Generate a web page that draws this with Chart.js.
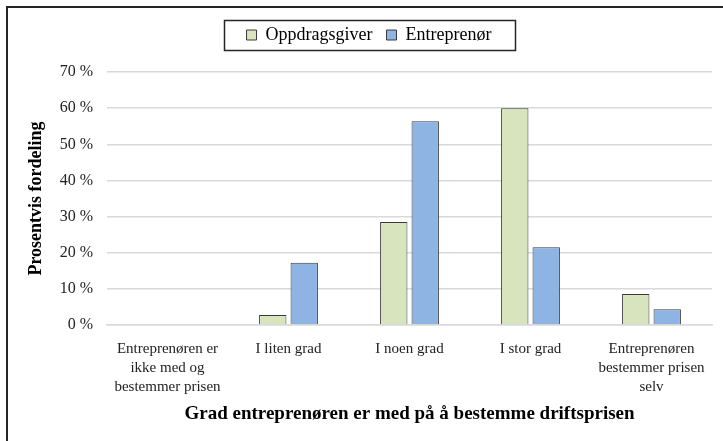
<!DOCTYPE html>
<html>
<head>
<meta charset="utf-8">
<script src="https://cdn.jsdelivr.net/npm/chart.js@4"></script>
<style>
  html, body { margin: 0; padding: 0; background: #fff; overflow: hidden; }
  #wrap { position: relative; width: 723px; height: 441px; }
  #frame { position: absolute; left: 6px; top: 6px; width: 900px; height: 900px;
           border-top: 2px solid #262626; border-left: 2px solid #262626; pointer-events: none; }
</style>
</head>
<body>
<div id="wrap">
  <canvas id="c" width="723" height="441"></canvas>
  <div id="frame"></div>
</div>
<script>
const categories = [
  ['Entreprenøren er', 'ikke med og', 'bestemmer prisen'],
  'I liten grad',
  'I noen grad',
  'I stor grad',
  ['Entreprenøren', 'bestemmer prisen', 'selv']
];
const seriesNames = ['Oppdragsgiver', 'Entreprenør'];
const oppdragsgiver = [0, 2.8, 28.5, 60.0, 8.6];
const entreprenor = [0, 17.2, 56.4, 21.5, 4.4];
const yTicks = [0, 10, 20, 30, 40, 50, 60, 70];

const FONT = "'Liberation Serif', 'Times New Roman', serif";

const legendBorder = {
  id: 'legendBorder',
  afterInit(chart) {
    const lg = chart.legend;
    if (lg && !lg._patched) {
      const orig = lg.fit.bind(lg);
      lg.fit = function () { orig(); this.height += 18; };
      lg._patched = true;
    }
  },
  afterDraw(chart) {
    const lg = chart.legend;
    if (!lg || !lg.legendHitBoxes || !lg.legendHitBoxes.length) return;
    const boxes = lg.legendHitBoxes;
    let l = Infinity, r = -Infinity, t = Infinity, b = -Infinity;
    boxes.forEach(h => { l = Math.min(l, h.left); r = Math.max(r, h.left + h.width);
                         t = Math.min(t, h.top); b = Math.max(b, h.top + h.height); });
    const ctx = chart.ctx;
    ctx.save();
    ctx.strokeStyle = '#262626';
    ctx.lineWidth = 1.5;
    const cy = (t + b) / 2;
    ctx.strokeRect(Math.round(l - 23) + 0.5, Math.round(cy - 15) + 0.5, Math.round(r - l + 46), 30);
    ctx.restore();
  }
};

new Chart(document.getElementById('c'), {
  type: 'bar',
  data: {
    labels: categories,
    datasets: [
      { label: seriesNames[0], data: oppdragsgiver, backgroundColor: '#d7e4bd',
        borderColor: '#3a3a3a', borderWidth: 1 },
      { label: seriesNames[1], data: entreprenor, backgroundColor: '#8eb4e3',
        borderColor: '#3a3a3a', borderWidth: 1 }
    ]
  },
  plugins: [legendBorder],
  options: {
    responsive: false,
    animation: false,
    devicePixelRatio: 1,
    categoryPercentage: 0.52,
    barPercentage: 0.87,
    layout: { padding: { left: 26, right: 11, top: 12, bottom: 16 } },
    plugins: {
      tooltip: { enabled: false },
      legend: {
        position: 'top',
        labels: {
          font: { family: FONT, size: 18 },
          color: '#000',
          boxWidth: 10,
          boxHeight: 10,
          padding: 14,
          useBorderRadius: false
        }
      }
    },
    scales: {
      x: {
        grid: { display: false },
        border: { display: true, color: '#d9d9d9', width: 1.5 },
        ticks: {
          font: { family: FONT, size: 15, lineHeight: 1.27 },
          color: '#222',
          maxRotation: 0, minRotation: 0, autoSkip: false, padding: 6
        },
        title: {
          display: true,
          text: 'Grad entreprenøren er med på å bestemme driftsprisen',
          font: { family: FONT, size: 19, weight: 'bold' },
          color: '#000',
          padding: { top: 0, bottom: 0 }
        }
      },
      y: {
        min: 0, max: 70,
        afterBuildTicks(scale) { scale.ticks = yTicks.map(v => ({ value: v })); },
        afterFit(scale) { scale.width = 107 - 26; },
        grid: { color: '#d9d9d9', lineWidth: 1.5, drawTicks: false },
        border: { display: false },
        ticks: {
          font: { family: FONT, size: 16 },
          color: '#222',
          padding: 14,
          callback: v => v + ' %'
        },
        title: {
          display: true,
          text: 'Prosentvis fordeling',
          font: { family: FONT, size: 18, weight: 'bold' },
          color: '#000',
          padding: { top: 0, bottom: 4 }
        }
      }
    }
  }
});
</script>
</body>
</html>
